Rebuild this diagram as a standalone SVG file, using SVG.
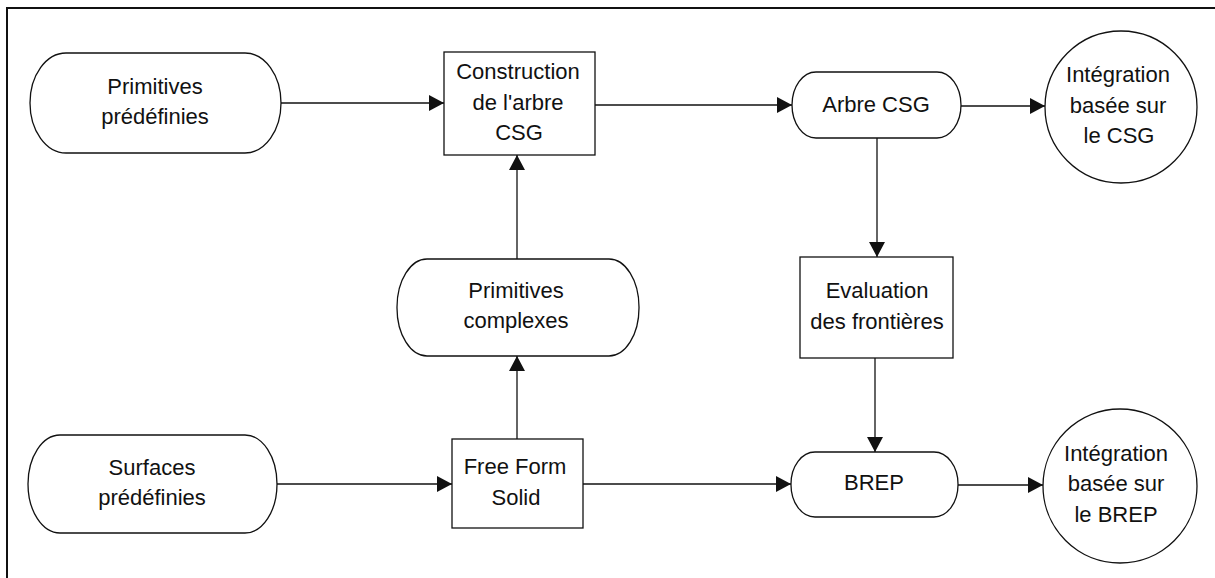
<svg xmlns="http://www.w3.org/2000/svg" width="1215" height="578" viewBox="0 0 1215 578">
  <defs>
    <marker id="arr" markerUnits="userSpaceOnUse" markerWidth="16" markerHeight="16" refX="15" refY="8" orient="auto">
      <path d="M0,0 L15,8 L0,16 z" fill="#111"/>
    </marker>
    <style>
      .shape { fill: #fff; stroke: #111; stroke-width: 1.3; }
      .conn { fill: none; stroke: #111; stroke-width: 1.3; marker-end: url(#arr); }
      .frame { fill: none; stroke: #111; stroke-width: 2; }
      text { font-family: "Liberation Sans", Arial, sans-serif; font-size: 22px; fill: #111; text-anchor: middle; }
    </style>
  </defs>
  <rect width="1215" height="578" fill="#fff"/>
  <path class="frame" d="M7,578 V8 H1215"/>

  <g id="connectors">
    <path class="conn" d="M281,103 H444"/>
    <path class="conn" d="M595,105 H792"/>
    <path class="conn" d="M961,106 H1045"/>
    <path class="conn" d="M877,138 V257"/>
    <path class="conn" d="M875,358 V452"/>
    <path class="conn" d="M958,485 H1043"/>
    <path class="conn" d="M277,484 H452"/>
    <path class="conn" d="M583,484 H791"/>
    <path class="conn" d="M517,439 V356"/>
    <path class="conn" d="M517,259 V155"/>
  </g>

  <g id="primitives-predefinies">
    <rect class="shape" x="30" y="53" width="251" height="100" rx="36" ry="50"/>
    <text x="155" y="94">Primitives</text>
    <text x="155" y="124">prédéfinies</text>
  </g>

  <g id="construction-arbre">
    <rect class="shape" x="444" y="52" width="151" height="103"/>
    <text x="518" y="79">Construction</text>
    <text x="518" y="110">de l'arbre</text>
    <text x="519" y="140">CSG</text>
  </g>

  <g id="arbre-csg">
    <rect class="shape" x="792" y="72" width="169" height="66" rx="24" ry="33"/>
    <text x="876" y="112">Arbre CSG</text>
  </g>

  <g id="integration-csg">
    <circle class="shape" cx="1121" cy="107" r="76"/>
    <text x="1118" y="82">Intégration</text>
    <text x="1118" y="113">basée sur</text>
    <text x="1119" y="143">le CSG</text>
  </g>

  <g id="primitives-complexes">
    <rect class="shape" x="397" y="259" width="242" height="97" rx="30" ry="48"/>
    <text x="516" y="298">Primitives</text>
    <text x="516" y="328">complexes</text>
  </g>

  <g id="evaluation-frontieres">
    <rect class="shape" x="800" y="257" width="153" height="101"/>
    <text x="877" y="298">Evaluation</text>
    <text x="877" y="329">des frontières</text>
  </g>

  <g id="surfaces-predefinies">
    <rect class="shape" x="28" y="435" width="249" height="98" rx="32" ry="49"/>
    <text x="152" y="475">Surfaces</text>
    <text x="152" y="505">prédéfinies</text>
  </g>

  <g id="free-form-solid">
    <rect class="shape" x="452" y="439" width="131" height="89"/>
    <text x="515" y="474">Free Form</text>
    <text x="516" y="505">Solid</text>
  </g>

  <g id="brep">
    <rect class="shape" x="791" y="452" width="167" height="65" rx="24" ry="32"/>
    <text x="874" y="490">BREP</text>
  </g>

  <g id="integration-brep">
    <circle class="shape" cx="1120" cy="486" r="77"/>
    <text x="1116" y="461">Intégration</text>
    <text x="1116" y="491">basée sur</text>
    <text x="1116" y="522">le BREP</text>
  </g>
</svg>
